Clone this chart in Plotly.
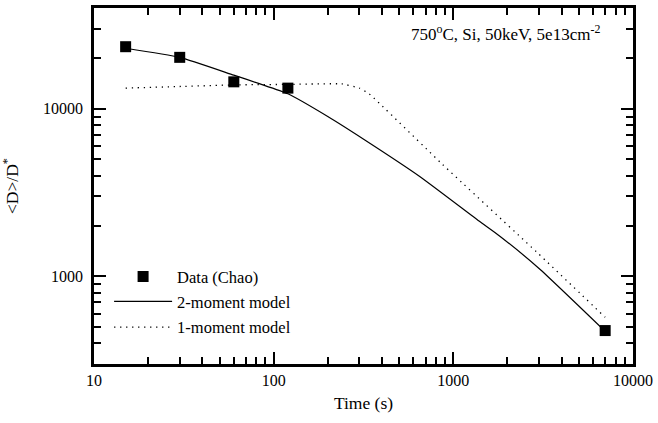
import plotly.graph_objects as go
import numpy as np

# Data (Chao)
data_t = [15, 30, 60, 120, 7000]
data_d = [23500, 20300, 14500, 13300, 475]

# 2-moment model
two_t = [15, 30, 60, 84, 120, 200, 320, 647, 1390, 1800, 3000, 7000]
two_d = [23000, 20300, 15900, 14100, 12300, 9000, 6540, 3960, 2140, 1750, 1115, 470]

# 1-moment model
one_t = [15, 30, 60, 120, 240, 300, 340, 870, 2970, 7000]
one_d = [13300, 13600, 13900, 14000, 14100, 13300, 12300, 4660, 1369, 570]

x_major = [10, 100, 1000, 10000]
y_major = [1000, 10000]

FONT = "Liberation Serif"

fig = go.Figure()
fig.add_trace(go.Scatter(x=two_t, y=two_d, mode="lines", name="2-moment model",
                         line=dict(color="black", width=1.2, shape="spline", smoothing=0.5),
                         legend="legend2"))
fig.add_trace(go.Scatter(x=one_t, y=one_d, mode="lines", name="1-moment model",
                         line=dict(color="black", width=1.3, dash="1.3px,4.7px", shape="spline", smoothing=0.3),
                         legend="legend3"))
fig.add_trace(go.Scatter(x=data_t, y=data_d, mode="markers", name="Data (Chao)",
                         marker=dict(symbol="square", size=11, color="black"),
                         legend="legend"))

x_minor = [m * d for d in [10, 100, 1000] for m in range(2, 10)]
y_minor = [m * d for d in [100, 1000, 10000] for m in range(2, 10)]

axis_common = dict(
    showline=True, linewidth=2.5, linecolor="black", mirror="allticks",
    ticks="inside", ticklen=12, tickwidth=1.5, tickcolor="black",
    showgrid=False, zeroline=False,
    tickfont=dict(family=FONT, size=16, color="black"),
)

fig.update_xaxes(type="log", range=[1, 4], tickmode="array", tickvals=x_major,
                 ticktext=[str(v) for v in x_major],
                 minor=dict(ticks="inside", ticklen=7, tickwidth=1.5, tickcolor="black",
                            tickmode="array", tickvals=x_minor, showgrid=False),
                 title=dict(text="Time (s)", font=dict(family=FONT, size=17.5, color="black"), standoff=9),
                 **axis_common)
fig.update_yaxes(type="log", range=[np.log10(300), np.log10(40000)], tickmode="array",
                 tickvals=y_major, ticktext=[str(v) for v in y_major],
                 ticklabelstandoff=5,
                 minor=dict(ticks="inside", ticklen=7, tickwidth=1.5, tickcolor="black",
                            tickmode="array", tickvals=y_minor, showgrid=False),
                 title=dict(text="&lt;D&gt;/D<sup>*</sup>", font=dict(family=FONT, size=17.5, color="black"), standoff=20),
                 **axis_common)

leg_common = dict(x=0.028, xanchor="left", yanchor="middle", bgcolor="rgba(0,0,0,0)",
                  borderwidth=0, itemwidth=58,
                  font=dict(family=FONT, size=16.5, color="black"))
fig.update_layout(
    width=658, height=423,
    margin=dict(l=94, r=25, t=5, b=59),
    paper_bgcolor="white", plot_bgcolor="white",
    showlegend=True,
    legend=dict(y=0.245, **leg_common),
    legend2=dict(y=0.175, **leg_common),
    legend3=dict(y=0.103, **leg_common),
    annotations=[dict(text="750<sup>o</sup>C, Si, 50keV, 5e13cm<sup>-2</sup>",
                      xref="paper", yref="paper", x=0.9425, y=0.93,
                      xanchor="right", yanchor="middle", showarrow=False,
                      font=dict(family=FONT, size=17, color="black"))],
)

fig.write_html("out.html")
